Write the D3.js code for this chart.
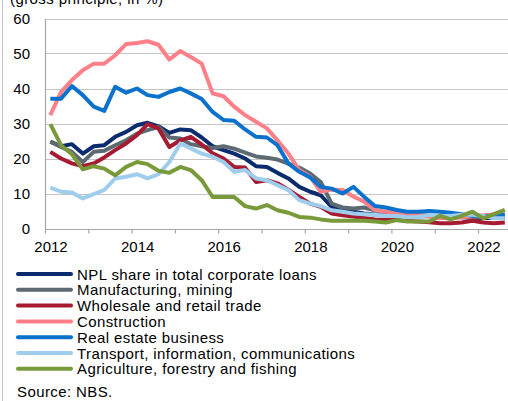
<!DOCTYPE html>
<html>
<head>
<meta charset="utf-8">
<script src="https://cdn.jsdelivr.net/npm/d3@7"></script>
<style>
  body { margin: 0; background: #fff; }
  svg { display: block; font-family: "Liberation Sans", Arial, sans-serif; }
  text { fill: #000; }
</style>
</head>
<body>
<svg width="508" height="401"></svg>
<script>
// quarterly observations, 2012Q1 .. 2022Q3
const quarters = d3.range(43).map(i => `${2012 + Math.floor(i / 4)}Q${(i % 4) + 1}`)

const nplTotal = [24.8, 23.5, 24.1, 21.4, 23.5, 23.8, 26.2, 27.6, 29.5, 30.2, 29.2, 27.3, 28.3, 28.1, 26.0,
  23.5, 22.4, 21.4, 20.0, 17.8, 17.6, 15.9, 14.3, 11.9, 10.5, 9.5, 6.2, 5.2, 4.8,
  4.3, 4.0, 4.0, 3.8, 3.6, 3.5, 3.5, 3.5, 3.3, 3.2, 3.1, 3.0, 3.0, 3.0]
const manufacturing = [24.8, 23.3, 21.9, 19.0, 21.9, 22.2, 23.8, 25.2, 27.1, 28.1, 29.0, 26.0, 25.7, 24.1, 23.5,
  23.0, 23.5, 22.8, 21.7, 20.6, 20.2, 19.7, 18.5, 17.4, 15.7, 13.3, 7.1, 6.0, 5.7,
  6.0, 5.2, 4.3, 4.0, 3.8, 3.8, 3.7, 3.6, 3.5, 3.4, 3.3, 3.2, 3.3, 3.4]
const wholesale = [21.9, 20.0, 18.6, 17.8, 18.6, 20.3, 22.4, 24.3, 26.7, 29.8, 28.6, 23.3, 25.2, 26.2, 24.0,
  21.5, 20.0, 17.6, 17.4, 13.3, 13.8, 12.9, 11.1, 9.0, 7.1, 6.2, 4.3, 3.8, 3.4,
  3.0, 2.6, 2.5, 2.4, 2.2, 2.0, 1.8, 1.5, 1.5, 1.7, 2.2, 1.7, 1.5, 1.7]
const construction = [32.4, 39.0, 42.4, 45.2, 47.1, 47.1, 49.5, 52.7, 53.0, 53.5, 52.5, 48.3, 50.7, 49.0, 47.1,
  38.6, 37.8, 34.8, 32.4, 30.5, 28.6, 25.2, 21.4, 16.7, 14.8, 10.5, 11.1, 11.0, 9.1,
  7.7, 5.3, 4.8, 4.5, 4.0, 3.8, 3.5, 3.0, 2.9, 3.2, 3.5, 3.8, 4.0, 4.0]
const realEstate = [37.1, 37.1, 40.7, 38.1, 34.8, 33.6, 40.5, 38.8, 40.0, 38.1, 37.6, 39.0, 40.0, 38.6, 37.0,
  33.3, 31.0, 30.8, 28.3, 26.2, 26.0, 23.8, 18.6, 16.2, 14.6, 11.9, 11.4, 10.0, 11.9,
  9.1, 6.4, 6.0, 5.3, 4.8, 4.8, 5.0, 4.8, 4.5, 4.1, 3.6, 3.6, 3.6, 3.9]
const transport = [11.7, 10.5, 10.3, 8.6, 9.8, 11.0, 14.3, 14.8, 15.5, 14.3, 15.5, 19.0, 24.3, 22.9, 21.4,
  20.5, 19.0, 16.2, 16.7, 14.3, 13.8, 12.4, 11.0, 8.1, 7.1, 6.4, 5.2, 4.8, 4.3,
  4.1, 3.9, 3.6, 3.6, 3.2, 3.2, 3.9, 3.6, 3.6, 3.9, 3.9, 3.6, 2.9, 2.9]
const agriculture = [29.8, 23.8, 21.2, 16.9, 17.8, 17.1, 15.2, 17.6, 19.0, 18.4, 16.5, 15.9, 17.6, 16.7, 13.8,
  9.0, 9.0, 9.0, 6.4, 5.7, 6.7, 5.2, 4.5, 3.3, 3.1, 2.6, 2.2, 2.2, 2.3,
  2.2, 2.0, 1.7, 2.4, 2.0, 2.0, 2.0, 3.6, 2.6, 3.6, 4.8, 2.9, 4.1, 5.3]

const seriesNames = [
  "NPL share in total corporate loans",
  "Manufacturing, mining",
  "Wholesale and retail trade",
  "Construction",
  "Real estate business",
  "Transport, information, communications",
  "Agriculture, forestry and fishing"
]
const seriesValues = [nplTotal, manufacturing, wholesale, construction, realEstate, transport, agriculture]
const seriesColors = ["#0b2b6f", "#5d6a72", "#a61b31", "#ff8089", "#0a72cc", "#9fcdec", "#789a3a"]

const yTicks = [0, 10, 20, 30, 40, 50, 60]
const yearLabels = [2012, 2014, 2016, 2018, 2020, 2022]
const subtitle = "(gross principle, in %)"
const source = "Source:  NBS."

// quarter label -> mid-quarter date
const parseQuarter = q => new Date(+q.slice(0, 4), (+q.slice(5) - 1) * 3 + 1, 15)

const svg = d3.select("svg")

const x = d3.scaleTime()
  .domain([new Date(2012, 0, 1), new Date(2023, 0, 1)])
  .range([45, 521.3])

const y = d3.scaleLinear()
  .domain([0, 60])
  .range([228.5, 18.5])

// outer frame line on the left
svg.append("line")
  .attr("x1", 2.5).attr("x2", 2.5)
  .attr("y1", 0).attr("y2", 401)
  .attr("stroke", "#c6c6c6")
  .attr("stroke-width", 1.2)

// subtitle, cut at the top like the original
svg.append("text")
  .attr("x", 10)
  .attr("y", 4)
  .style("font-size", "15px")
  .style("letter-spacing", "0.4px")
  .text(subtitle)

// gridlines
svg.append("g")
  .selectAll("line")
  .data(yTicks.filter(d => d > 0))
  .join("line")
  .attr("x1", 45).attr("x2", 508)
  .attr("y1", d => Math.round(y(d)) + 0.5)
  .attr("y2", d => Math.round(y(d)) + 0.5)
  .attr("stroke", "#c4c4c4")
  .attr("stroke-width", 1.2)

// y axis
const axisY = d3.axisLeft(y)
  .tickValues(yTicks)
  .tickSize(0)
  .tickPadding(15)

svg.append("g")
  .attr("transform", "translate(45,0)")
  .call(axisY)
  .call(g => g.select(".domain").attr("stroke", "#a6a6a6").attr("stroke-width", 1.2))
  .call(g => g.selectAll("text").style("font-size", "15px").attr("fill", "#000").attr("font-family", null))

// x axis: tick marks each year, labels every second year
const axisX = d3.axisBottom(x)
  .ticks(d3.timeYear.every(1))
  .tickSizeInner(4)
  .tickSizeOuter(0)
  .tickFormat("")

svg.append("g")
  .attr("transform", `translate(0,${Math.round(y(0)) + 0.5})`)
  .call(axisX)
  .call(g => g.select(".domain").attr("d", "M45,0H508").attr("stroke", "#a6a6a6").attr("stroke-width", 1.2))
  .call(g => g.selectAll(".tick line").attr("stroke", "#a6a6a6").attr("stroke-width", 1.2))

svg.append("g")
  .selectAll("text")
  .data(yearLabels)
  .join("text")
  .attr("x", d => x(new Date(d, 0, 1)) + 6)
  .attr("y", 252)
  .attr("text-anchor", "middle")
  .style("font-size", "15px")
  .text(d => d)

// lines
const line = d3.line()
  .x((d, i) => x(parseQuarter(quarters[i])))
  .y(d => y(d))

svg.append("defs").append("clipPath")
  .attr("id", "plot")
  .append("rect")
  .attr("x", 40).attr("y", 0).attr("width", 468).attr("height", 240)

svg.append("g")
  .attr("clip-path", "url(#plot)")
  .selectAll("path")
  .data(seriesValues)
  .join("path")
  .attr("d", d => line(d))
  .attr("fill", "none")
  .attr("stroke", (d, i) => seriesColors[i])
  .attr("stroke-width", 4)
  .attr("stroke-linejoin", "round")

// legend
const legend = svg.append("g")
  .selectAll("g")
  .data(seriesNames)
  .join("g")
  .attr("transform", (d, i) => `translate(0,${274 + i * 15.8})`)

legend.append("line")
  .attr("x1", 18).attr("x2", 71)
  .attr("y1", 0).attr("y2", 0)
  .attr("stroke", (d, i) => seriesColors[i])
  .attr("stroke-width", 4)
  .attr("stroke-linecap", "round")

legend.append("text")
  .attr("x", 77)
  .attr("y", 5.5)
  .style("font-size", "15px")
  .style("letter-spacing", "0.4px")
  .text(d => d)

svg.append("text")
  .attr("x", 17)
  .attr("y", 397)
  .style("font-size", "15px")
  .style("letter-spacing", "0.4px")
  .text(source)
</script>
</body>
</html>
